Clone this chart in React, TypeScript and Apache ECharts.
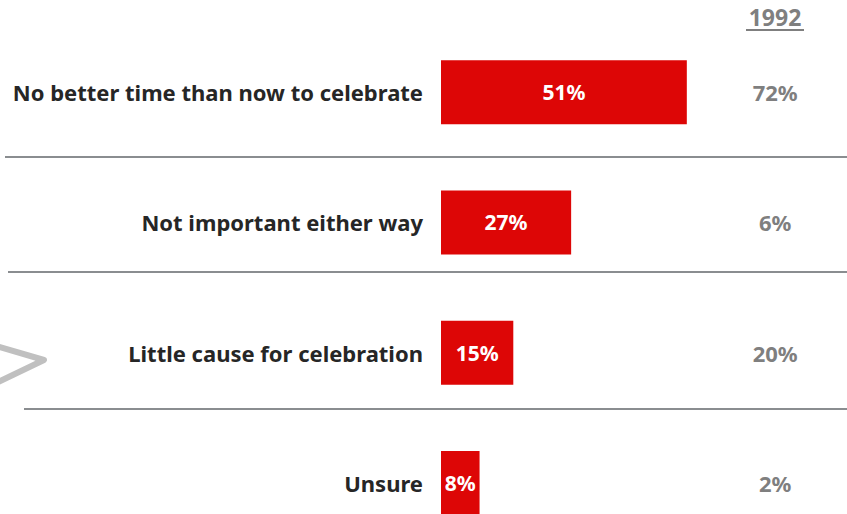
import React, { useEffect, useRef } from "react";
import * as echarts from "echarts";

const categories = [
  "No better time than now to celebrate",
  "Not important either way",
  "Little cause for celebration",
  "Unsure",
];
const currentValues = [51, 27, 15, 8];
const values1992 = [72, 6, 20, 2];
const headerLabel = "1992";

export default function App() {
  const ref = useRef<HTMLDivElement>(null);
  useEffect(() => {
    if (!ref.current) return;
    const chart = echarts.init(ref.current, null, { renderer: "svg" });
    const font = "'Noto Sans', sans-serif";
    chart.setOption({
      animation: false,
      backgroundColor: "#ffffff",
      grid: { left: 441, top: 27, width: 289.2, height: 521, containLabel: false },
      xAxis: { type: "value", min: 0, max: 60, show: false },
      yAxis: [
        {
          type: "category",
          data: categories,
          inverse: true,
          axisLine: { show: false },
          axisTick: { show: false },
          splitLine: { show: false },
          axisLabel: {
            margin: 18,
            color: "#262626",
            fontWeight: "bold",
            fontSize: 22,
            fontFamily: font,
          },
        },
        {
          type: "category",
          position: "right",
          data: values1992.map((v) => v + "%"),
          inverse: true,
          axisLine: { show: false },
          axisTick: { show: false },
          splitLine: { show: false },
          axisLabel: {
            margin: 45,
            align: "center",
            color: "#7f7f7f",
            fontWeight: "bold",
            fontSize: 22,
            fontFamily: font,
          },
        },
      ],
      series: [
        {
          type: "bar",
          data: currentValues,
          barWidth: 64,
          itemStyle: { color: "#dd0606" },
          label: {
            show: true,
            position: "inside",
            formatter: "{c}%",
            color: "#ffffff",
            fontWeight: "bold",
            fontSize: 21,
            fontFamily: font,
          },
        },
      ],
      graphic: [
        {
          type: "text",
          x: 775,
          y: 17,
          style: {
            text: headerLabel,
            fill: "#7f7f7f",
            font: "bold 23px 'Noto Sans', sans-serif",
            align: "center",
            verticalAlign: "middle",
          },
        },
        {
          type: "line",
          shape: { x1: 746, y1: 30, x2: 804, y2: 30 },
          style: { stroke: "#7f7f7f", lineWidth: 2 },
        },
        {
          type: "line",
          shape: { x1: 5, y1: 157, x2: 847, y2: 157 },
          style: { stroke: "#8a8d90", lineWidth: 2 },
        },
        {
          type: "line",
          shape: { x1: 8, y1: 272, x2: 847, y2: 272 },
          style: { stroke: "#8a8d90", lineWidth: 2 },
        },
        {
          type: "line",
          shape: { x1: 24, y1: 409, x2: 847, y2: 409 },
          style: { stroke: "#8a8d90", lineWidth: 2 },
        },
        {
          type: "polyline",
          shape: { points: [[-4, 346], [44, 360], [-4, 383]] },
          style: { stroke: "#c0c0c0", lineWidth: 6, fill: "none", lineJoin: "round" },
        },
      ],
    });
    return () => chart.dispose();
  }, []);
  return (
    <div
      style={{ position: "absolute", left: 0, top: 0, width: 847, height: 514, overflow: "hidden" }}
    >
      <div ref={ref} style={{ width: 847, height: 560 }} />
    </div>
  );
}
